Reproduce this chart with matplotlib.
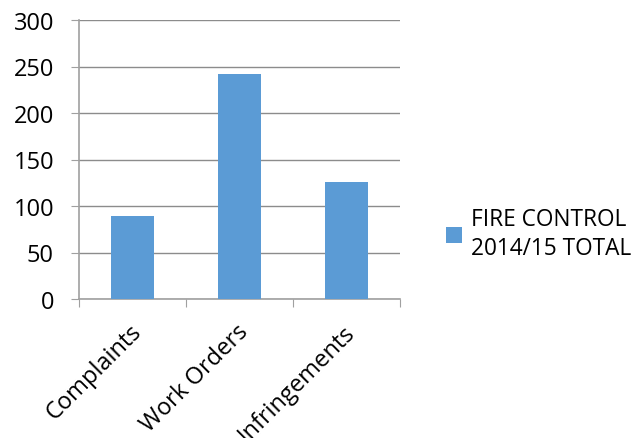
import matplotlib
matplotlib.use("Agg")
import matplotlib.pyplot as plt
import numpy as np

categories = ["Complaints", "Work Orders", "Infringements"]
totals = [89, 242, 126]
series_label = "FIRE CONTROL\n2014/15 TOTAL"
y_ticks = [0, 50, 100, 150, 200, 250, 300]

plt.rcParams["font.family"] = ["Open Sans", "DejaVu Sans"]
FS = 17

fig = plt.figure(figsize=(6.44, 4.39), dpi=100)
ax = fig.add_axes([79 / 644, 139 / 439, 321 / 644, 279 / 439])

x = np.arange(len(categories))
bars = ax.bar(x, totals, width=0.4, color="#5B9BD5", zorder=3, label=series_label)

ax.set_xlim(-0.5, len(categories) - 0.5)
ax.set_ylim(0, 300)
ax.set_yticks(y_ticks)
ax.yaxis.grid(True, color="#8c8c8c", linewidth=1.0, zorder=0)

for side in ("top", "right"):
    ax.spines[side].set_visible(False)
for side in ("left", "bottom"):
    ax.spines[side].set_color("#a0a0a0")
    ax.spines[side].set_linewidth(1.2)

ax.tick_params(axis="y", length=6, color="#a0a0a0", labelsize=FS, pad=12)

# category boundaries carry the tick marks; labels sit under the bar centres
ax.set_xticks(np.arange(-0.5, len(categories), 1.0))
ax.set_xticklabels([])
ax.tick_params(axis="x", length=6, color="#a0a0a0", direction="out")
for xi, name in zip(x, categories):
    ax.text(xi - 0.03, -22, name, rotation=45, ha="right", va="top",
            rotation_mode="anchor", fontsize=FS, transform=ax.transData,
            clip_on=False)

leg = fig.legend(handles=[bars], labels=[series_label], loc="upper left",
                 bbox_to_anchor=(437 / 644, 1 - 199 / 439), frameon=False,
                 fontsize=16.3, handlelength=0.7, handleheight=0.7,
                 handletextpad=0.4, borderaxespad=0)
for t in leg.get_texts():
    t.set_linespacing(1.3)

fig.savefig("out.png", dpi=100)
